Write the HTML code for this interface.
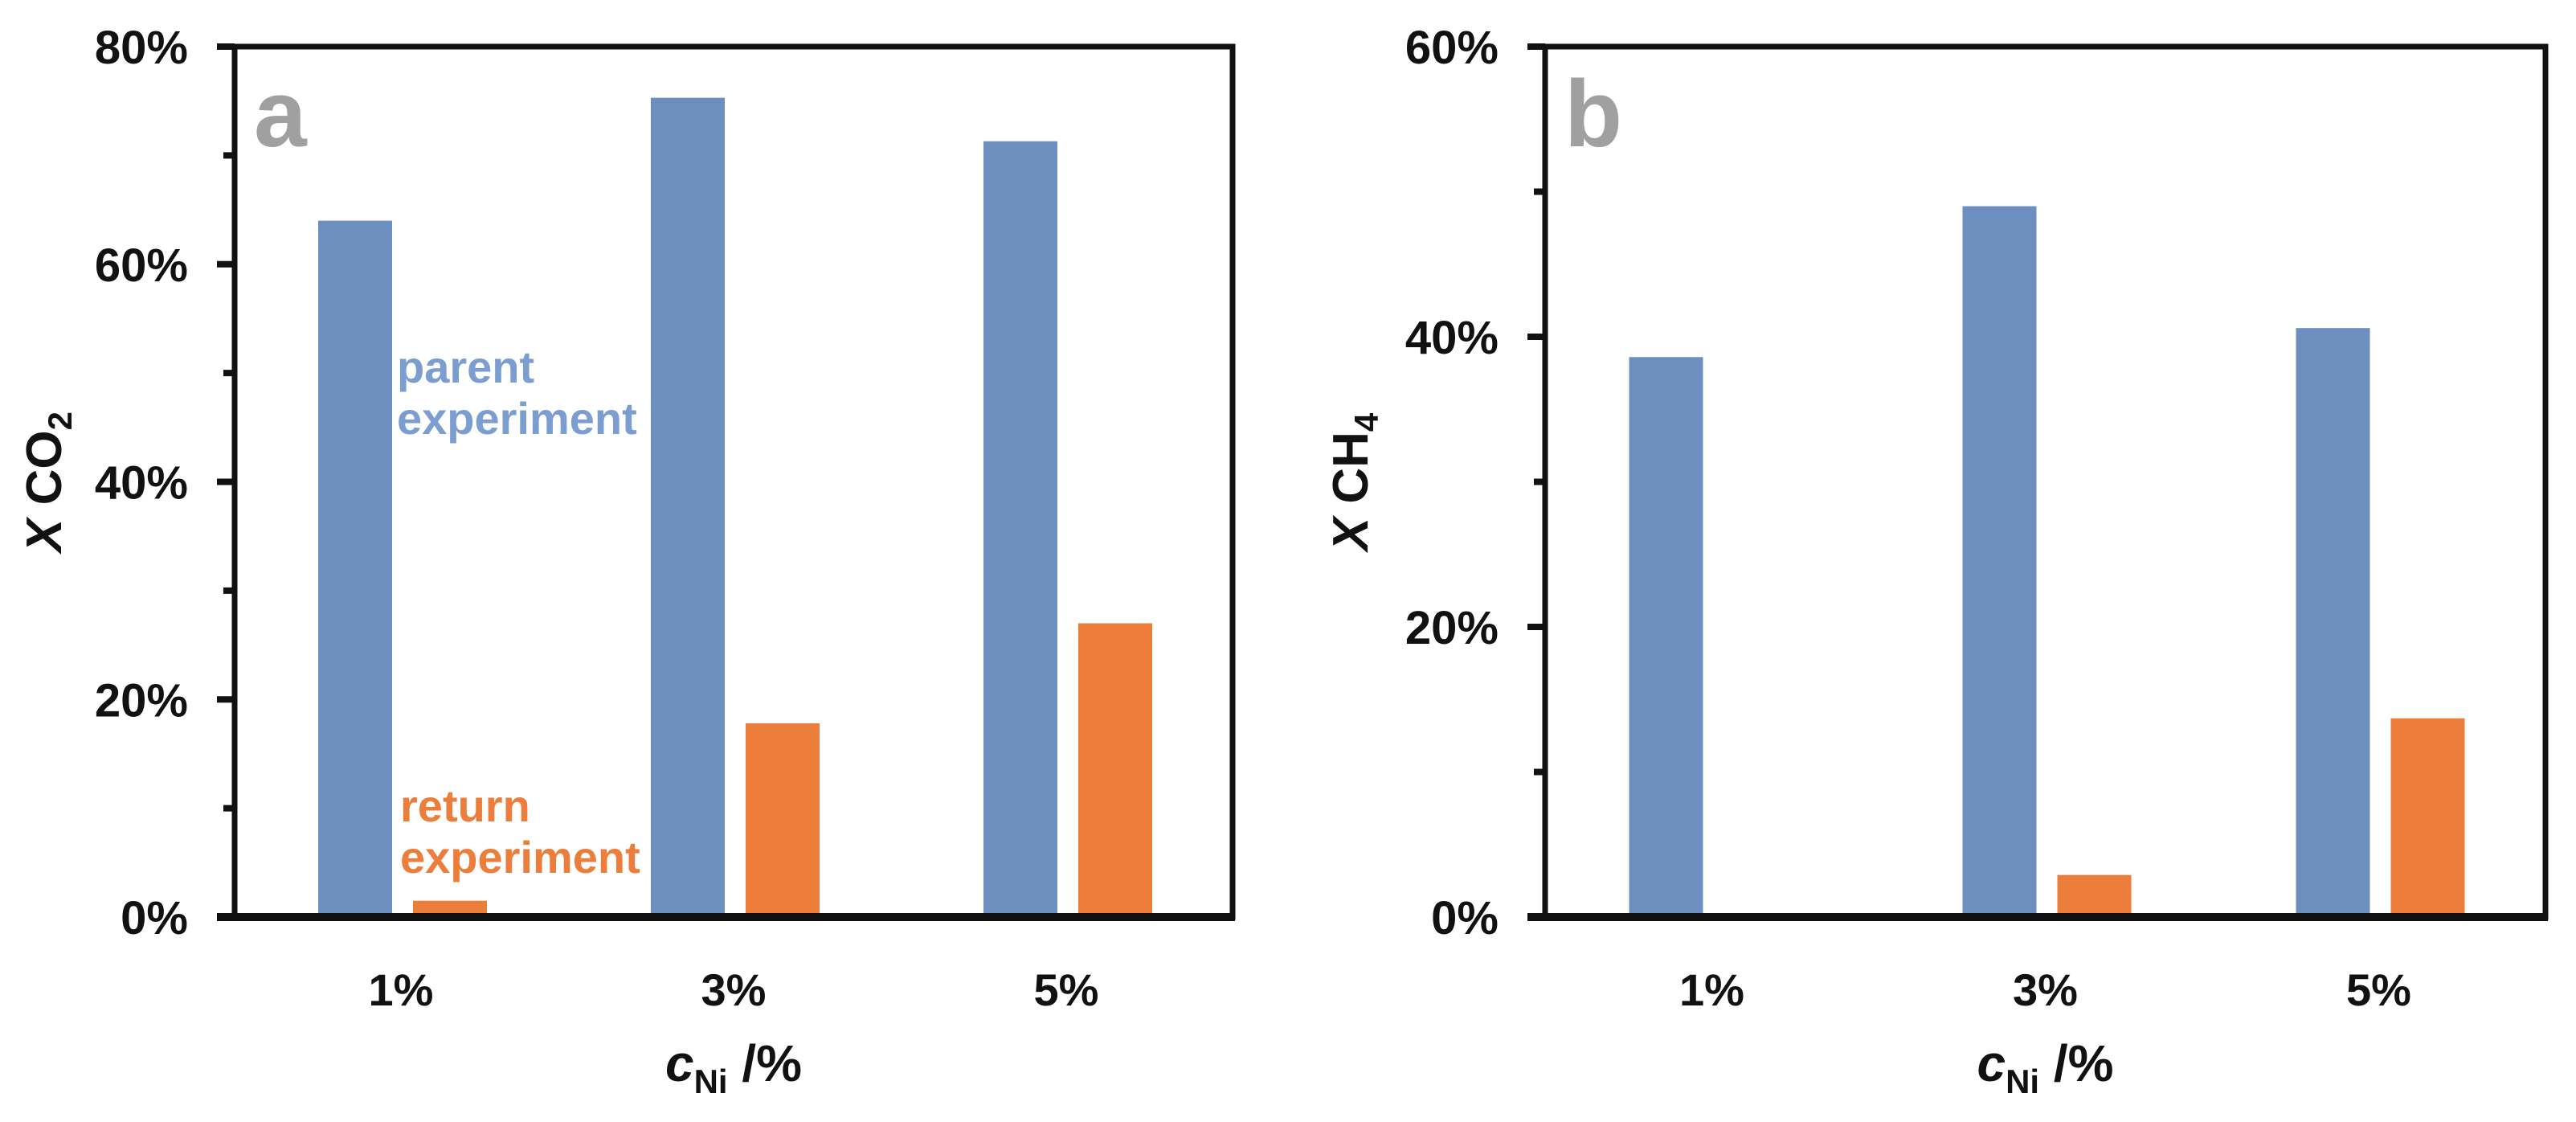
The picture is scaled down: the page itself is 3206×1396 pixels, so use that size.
<!DOCTYPE html>
<html><head><meta charset="utf-8">
<style>
html,body{margin:0;padding:0;background:#fff;}
svg{display:block;font-family:"Liberation Sans",sans-serif;}
</style></head>
<body>
<svg id="fig" width="3206" height="1396" viewBox="0 0 3206 1396" xmlns="http://www.w3.org/2000/svg"></svg>
<script>
const categories = ["1%", "3%", "5%"];
const parentCO2 = [64.0, 75.3, 71.3];
const returnCO2 = [1.5, 17.8, 27.0];
const parentCH4 = [38.6, 49.0, 40.6];
const returnCH4 = [0.0, 2.9, 13.7];
const ticksA = [0, 20, 40, 60, 80];
const ticksB = [0, 20, 40, 60];

const NS = "http://www.w3.org/2000/svg";
const svg = document.getElementById("fig");
function mk(tag, attrs, parent) {
  const e = document.createElementNS(NS, tag);
  for (const k in attrs) e.setAttribute(k, attrs[k]);
  (parent || svg).appendChild(e);
  return e;
}
const BLUE = "#6d8fbf", ORANGE = "#ed7d3a";

function panel(opts) {
  const g = mk("g", {});
  
  
  const L = opts.left, R = opts.right, T = 58, B = 1141;
  const maxV = opts.ticks[opts.ticks.length - 1];
  const y = v => B - (v / maxV) * (B - T);
  const bw = (R - L) / categories.length;
  const cx = i => L + bw * (i + 0.5);
  categories.forEach((c, i) => {
    const pb = mk("rect", {x: cx(i) - 103, y: y(opts.parent[i]), width: 92, height: B - y(opts.parent[i]), fill: BLUE}, g);
    
    
    const rb = mk("rect", {x: cx(i) + 15, y: y(opts.ret[i]), width: 92, height: B - y(opts.ret[i]), fill: ORANGE}, g);
    
    
    const t = mk("text", {x: cx(i), y: B + 110, "text-anchor": "middle", "font-size": 56, "font-weight": "bold", fill: "#111"}, g);
    t.textContent = c;
    
    
  });
  const fr = mk("rect", {x: L, y: T, width: R - L, height: B - T, fill: "none", stroke: "#111", "stroke-width": 7}, g);
  
  
  mk("line", {x1: L - 22, x2: R + 3, y1: B, y2: B, stroke: "#111", "stroke-width": 10}, g);
  for (let k = 0; k < opts.ticks.length; k++) {
    const v = opts.ticks[k];
    mk("line", {x1: L - 22, x2: L, y1: y(v), y2: y(v), stroke: "#111", "stroke-width": 8}, g);
    const t = mk("text", {x: L - 58, y: y(v) + 21, "text-anchor": "end", "font-size": 58, "font-weight": "bold", fill: "#111"}, g);
    t.textContent = v + "%";
    
    
    if (k < opts.ticks.length - 1) {
      const m = (v + opts.ticks[k + 1]) / 2;
      mk("line", {x1: L - 14, x2: L, y1: y(m), y2: y(m), stroke: "#111", "stroke-width": 8}, g);
    }
  }
  const pl = mk("text", {x: L + 24, y: 182, "font-size": 118, "font-weight": "bold", fill: "#a0a0a0"}, g);
  pl.textContent = opts.letter;
  
  
  const xt = mk("text", {x: (L + R) / 2, y: 1345, "text-anchor": "middle", "font-size": 64, "font-weight": "bold", fill: "#111"}, g);
  xt.innerHTML = '<tspan font-style="italic">c</tspan><tspan font-size="42" dy="15">Ni</tspan><tspan dy="-15"> /%</tspan>';
  
  
  const yt = mk("text", {transform: "translate(" + opts.ytx + "," + (T + B) / 2 + ") rotate(-90)", "text-anchor": "middle", "font-size": 62, "font-weight": "bold", fill: "#111"}, g);
  yt.innerHTML = '<tspan font-style="italic">X</tspan> ' + opts.ytitle + '<tspan font-size="42" dy="13">' + opts.sub + '</tspan>';
  
  
  return {g, y, cx};
}

const a = panel({name: "panel-a", left: 292, right: 1534, ticks: ticksA, parent: parentCO2, ret: returnCO2, letter: "a", ytitle: "CO", sub: "2", ytx: 76});
panel({name: "panel-b", left: 1923, right: 3168, ticks: ticksB, parent: parentCH4, ret: returnCH4, letter: "b", ytitle: "CH", sub: "4", ytx: 1702});

function label(lines, x, y0, color, name) {
  const t = mk("text", {x: x, y: y0, "font-size": 56, "font-weight": "bold", fill: color}, a.g);
  
  
  lines.forEach((s, i) => {
    const ts = mk("tspan", {x: x, dy: i ? 64 : 0}, t);
    ts.textContent = s;
  });
}
label(["parent", "experiment"], 494, 476, "#7b9dcf", "parent-experiment-label");
label(["return", "experiment"], 498, 1022, "#ed7d3a", "return-experiment-label");
</script>
</body></html>
